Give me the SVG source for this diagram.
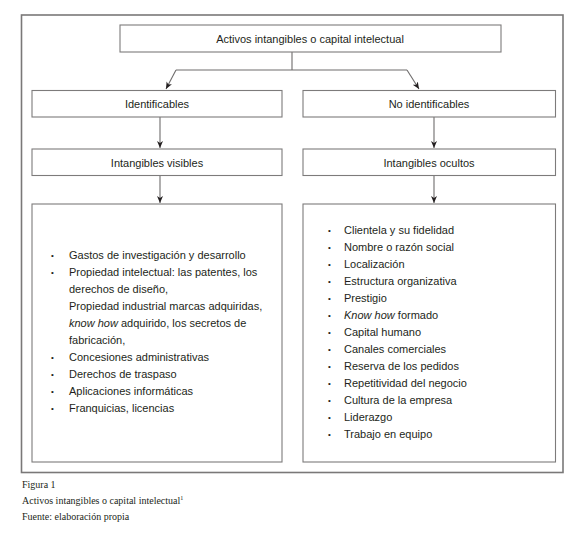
<svg xmlns="http://www.w3.org/2000/svg" width="580" height="533" viewBox="0 0 580 533">
<defs>
<marker id="ah" markerWidth="8" markerHeight="8" refX="7" refY="4" orient="auto" markerUnits="userSpaceOnUse">
<path d="M0,1 L7,4 L0,7 L2,4 Z" fill="#231f20"/>
</marker>
<style>
.box{fill:#fff;stroke:#7d7b7b;stroke-width:1.1}
.frame{fill:#fff;stroke:#7a7878;stroke-width:1.6}
.lbl{font-family:"Liberation Sans",Arial,sans-serif;font-size:11px;fill:#231f20;text-anchor:middle}
.li{font-family:"Liberation Sans",Arial,sans-serif;font-size:11px;fill:#231f20}
.bul{font-family:"Liberation Sans",Arial,sans-serif;font-size:8px;fill:#231f20}
.cap{font-family:"Liberation Serif","Times New Roman",serif;font-size:10px;fill:#231f20}
.con{fill:none;stroke:#6e6c6c;stroke-width:1.1}
</style>
</defs>
<rect width="580" height="533" fill="#fff"/>
<rect class="frame" x="21.5" y="15" width="541.5" height="457.5"/>

<g id="connectors">
<path class="con" d="M292,52 V70 M176,70 H407"/>
<path class="con" d="M176,70 L166,89" marker-end="url(#ah)"/>
<path class="con" d="M407,70 L419,89" marker-end="url(#ah)"/>
<path class="con" d="M160,117 V148" marker-end="url(#ah)"/>
<path class="con" d="M434,117 V148" marker-end="url(#ah)"/>
<path class="con" d="M160,176 V203" marker-end="url(#ah)"/>
<path class="con" d="M434,176 V203" marker-end="url(#ah)"/>
</g>

<g id="root">
<rect class="box" x="120" y="25" width="381" height="27"/>
<text class="lbl" x="310" y="42.5">Activos intangibles o capital intelectual</text>
</g>

<g id="identificables">
<rect class="box" x="32" y="90.5" width="250" height="26.5"/>
<text class="lbl" x="157" y="108">Identificables</text>
</g>

<g id="no-identificables">
<rect class="box" x="303" y="90.5" width="252.5" height="26.5"/>
<text class="lbl" x="429" y="108">No identificables</text>
</g>

<g id="intangibles-visibles">
<rect class="box" x="32" y="149" width="250" height="26.5"/>
<text class="lbl" x="157" y="166.5">Intangibles visibles</text>
</g>

<g id="intangibles-ocultos">
<rect class="box" x="303" y="149" width="252.5" height="26.5"/>
<text class="lbl" x="429" y="166.5">Intangibles ocultos</text>
</g>

<g id="lista-visibles">
<rect class="box" x="32" y="204" width="250" height="258"/>
<text class="bul" x="51" y="258">•</text>
<text class="li" x="69" y="259">Gastos de investigación y desarrollo</text>
<text class="bul" x="51" y="275">•</text>
<text class="li" x="69" y="276">Propiedad intelectual: las patentes, los</text>
<text class="li" x="69" y="293">derechos de diseño,</text>
<text class="li" x="69" y="310">Propiedad industrial marcas adquiridas,</text>
<text class="li" x="69" y="327"><tspan font-style="italic">know how</tspan> adquirido, los secretos de</text>
<text class="li" x="69" y="344">fabricación,</text>
<text class="bul" x="51" y="360">•</text>
<text class="li" x="69" y="361">Concesiones administrativas</text>
<text class="bul" x="51" y="377">•</text>
<text class="li" x="69" y="378">Derechos de traspaso</text>
<text class="bul" x="51" y="394">•</text>
<text class="li" x="69" y="395">Aplicaciones informáticas</text>
<text class="bul" x="51" y="411">•</text>
<text class="li" x="69" y="412">Franquicias, licencias</text>
</g>

<g id="lista-ocultos">
<rect class="box" x="303" y="204" width="252.5" height="258"/>
<text class="bul" x="328" y="233">•</text>
<text class="li" x="344" y="234">Clientela y su fidelidad</text>
<text class="bul" x="328" y="250">•</text>
<text class="li" x="344" y="251">Nombre o razón social</text>
<text class="bul" x="328" y="267">•</text>
<text class="li" x="344" y="268">Localización</text>
<text class="bul" x="328" y="284">•</text>
<text class="li" x="344" y="285">Estructura organizativa</text>
<text class="bul" x="328" y="301">•</text>
<text class="li" x="344" y="302">Prestigio</text>
<text class="bul" x="328" y="318">•</text>
<text class="li" x="344" y="319"><tspan font-style="italic">Know how</tspan> formado</text>
<text class="bul" x="328" y="335">•</text>
<text class="li" x="344" y="336">Capital humano</text>
<text class="bul" x="328" y="352">•</text>
<text class="li" x="344" y="353">Canales comerciales</text>
<text class="bul" x="328" y="369">•</text>
<text class="li" x="344" y="370">Reserva de los pedidos</text>
<text class="bul" x="328" y="386">•</text>
<text class="li" x="344" y="387">Repetitividad del negocio</text>
<text class="bul" x="328" y="403">•</text>
<text class="li" x="344" y="404">Cultura de la empresa</text>
<text class="bul" x="328" y="420">•</text>
<text class="li" x="344" y="421">Liderazgo</text>
<text class="bul" x="328" y="437">•</text>
<text class="li" x="344" y="438">Trabajo en equipo</text>
</g>

<g id="caption">
<text class="cap" x="22" y="488">Figura 1</text>
<text class="cap" x="22" y="504">Activos intangibles o capital intelectual<tspan font-size="6" dy="-4">1</tspan></text>
<text class="cap" x="22" y="520">Fuente: elaboración propia</text>
</g>
</svg>
